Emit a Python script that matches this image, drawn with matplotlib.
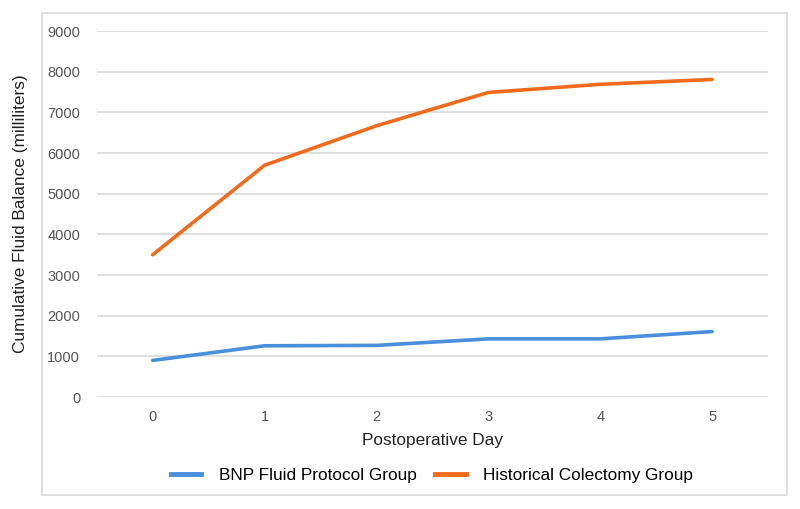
import matplotlib
matplotlib.use("Agg")
import matplotlib.pyplot as plt
from matplotlib.patches import Rectangle
from matplotlib.lines import Line2D

# data
days = [0, 1, 2, 3, 4, 5]
bnp_group = [900, 1260, 1270, 1430, 1430, 1610]
historical_group = [3500, 5700, 6670, 7490, 7690, 7810]
series_names = ["BNP Fluid Protocol Group", "Historical Colectomy Group"]
y_ticks = [0, 1000, 2000, 3000, 4000, 5000, 6000, 7000, 8000, 9000]

blue = "#4a8fdb"
orange = "#f26b1d"
tick_grey = "#555555"

plt.rcParams['font.family'] = ['Liberation Sans', 'DejaVu Sans']

fig = plt.figure(figsize=(8, 5.09), dpi=100)
ax = fig.add_axes([0.121, 0.22, 0.839, 0.719])

# outer light frame
fig.patches.append(Rectangle((42 / 800, 1 - 495 / 509), 745 / 800, 482 / 509,
                             transform=fig.transFigure, fill=False,
                             edgecolor="#d9d9d9", linewidth=1.2))

ax.plot(days, bnp_group, color=blue, linewidth=2.6, solid_capstyle="round")
ax.plot(days, historical_group, color=orange, linewidth=2.6, solid_capstyle="round")

ax.set_xlim(-0.5, 5.5)
ax.set_ylim(0, 9000)
ax.set_xticks(days)
ax.set_yticks(y_ticks)
ax.yaxis.grid(True, color="#d9d9d9", linewidth=1.2)
ax.set_axisbelow(True)
for s in ax.spines.values():
    s.set_visible(False)
ax.tick_params(length=0, labelsize=10.5, labelcolor=tick_grey)
ax.tick_params(axis="y", pad=12)
ax.tick_params(axis="x", pad=9)

ax.set_xlabel("Postoperative Day", fontsize=12.4, color="#222222", labelpad=7)
ax.set_ylabel("Cumulative Fluid Balance (milliliters)", fontsize=12.4,
              color="#222222", labelpad=14)

# legend along the bottom
handles = [Line2D([], [], color=blue, linewidth=3.5),
           Line2D([], [], color=orange, linewidth=3.5)]
fig.legend(handles, series_names, loc="center", bbox_to_anchor=(0.54, 1 - 475 / 509),
           ncol=2, frameon=False, fontsize=12.4, handlelength=1.75,
           handletextpad=1.0, columnspacing=1.1)

fig.savefig("out.png", dpi=100)
